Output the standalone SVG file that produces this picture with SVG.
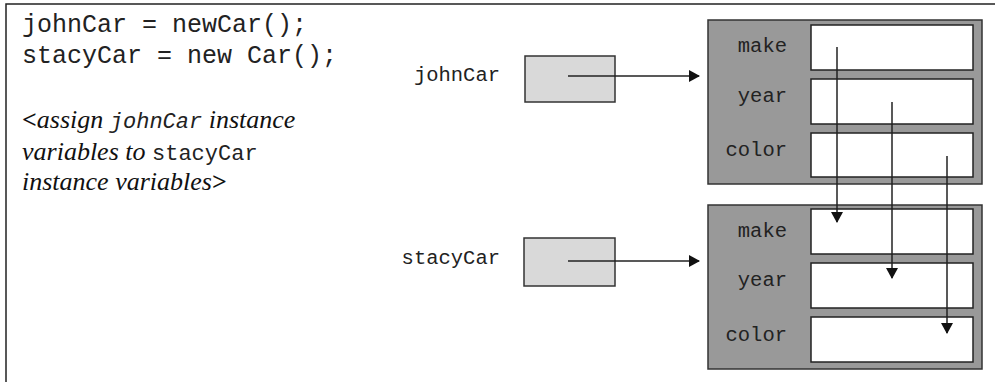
<svg xmlns="http://www.w3.org/2000/svg" width="995" height="382" viewBox="0 0 995 382">
<style>
.mono{font-family:"Liberation Mono","Courier New",monospace;fill:#222}
.code{font-size:25px}
.lbl{font-size:20.5px}
.note{font-family:"Liberation Serif","Times New Roman",serif;font-style:italic;font-size:26px;fill:#111}
.obj{fill:#999;stroke:#333;stroke-width:1.5}
.field{fill:#fff;stroke:#222;stroke-width:1.5}
.ref{fill:#d9d9d9;stroke:#333;stroke-width:1.5}
.conn{stroke:#222;stroke-width:1.5;fill:none}
</style>
<defs>
<marker id="ah" markerWidth="12" markerHeight="12" refX="10" refY="6" orient="auto" markerUnits="userSpaceOnUse">
<path d="M0,0 L11,6 L0,12 Z" fill="#111"/>
</marker>
</defs>
<rect x="0" y="0" width="995" height="382" fill="#fff"/>
<path d="M6,382 V4 H995" fill="none" stroke="#222" stroke-width="1.5"/>
<g id="code">
<text class="mono code" x="22" y="32">johnCar = newCar();</text>
<text class="mono code" x="22" y="63">stacyCar = new Car();</text>
<text class="note" x="22" y="128"><tspan font-style="normal" font-weight="bold">&lt;</tspan>assign <tspan class="mono" font-size="22px" font-style="italic">johnCar</tspan> instance</text>
<text class="note" x="22" y="160">variables to <tspan class="mono" font-size="22px" font-style="normal">stacyCar</tspan></text>
<text class="note" x="22" y="190">instance variables<tspan font-style="normal" font-weight="bold">&gt;</tspan></text>
</g>
<g id="johnCar">
<text class="mono lbl" x="500" y="81" text-anchor="end">johnCar</text>
<rect class="ref" x="525" y="56" width="90" height="46"/>
</g>
<g id="stacyCar">
<text class="mono lbl" x="500" y="264" text-anchor="end">stacyCar</text>
<rect class="ref" x="524" y="238" width="91" height="48"/>
</g>
<g id="johnObj">
<rect class="obj" x="708" y="20" width="274" height="164"/>
<rect class="field" x="811" y="25" width="162" height="45"/>
<rect class="field" x="811" y="79" width="162" height="45"/>
<rect class="field" x="811" y="133" width="162" height="44"/>
<text class="mono lbl" x="787" y="52" text-anchor="end">make</text>
<text class="mono lbl" x="787" y="102" text-anchor="end">year</text>
<text class="mono lbl" x="787" y="156" text-anchor="end">color</text>
</g>
<g id="stacyObj">
<rect class="obj" x="708" y="205" width="274" height="164"/>
<rect class="field" x="811" y="209" width="162" height="45"/>
<rect class="field" x="811" y="263" width="162" height="45"/>
<rect class="field" x="811" y="317" width="162" height="45"/>
<text class="mono lbl" x="787" y="237" text-anchor="end">make</text>
<text class="mono lbl" x="787" y="286" text-anchor="end">year</text>
<text class="mono lbl" x="787" y="341" text-anchor="end">color</text>
</g>
<g id="connectors">
<line class="conn" x1="568" y1="76" x2="699" y2="76" marker-end="url(#ah)"/>
<line class="conn" x1="568" y1="261" x2="699" y2="261" marker-end="url(#ah)"/>
<line class="conn" x1="837" y1="47" x2="837" y2="222" marker-end="url(#ah)"/>
<line class="conn" x1="892" y1="102" x2="892" y2="278" marker-end="url(#ah)"/>
<line class="conn" x1="947" y1="156" x2="947" y2="333" marker-end="url(#ah)"/>
</g>
</svg>
